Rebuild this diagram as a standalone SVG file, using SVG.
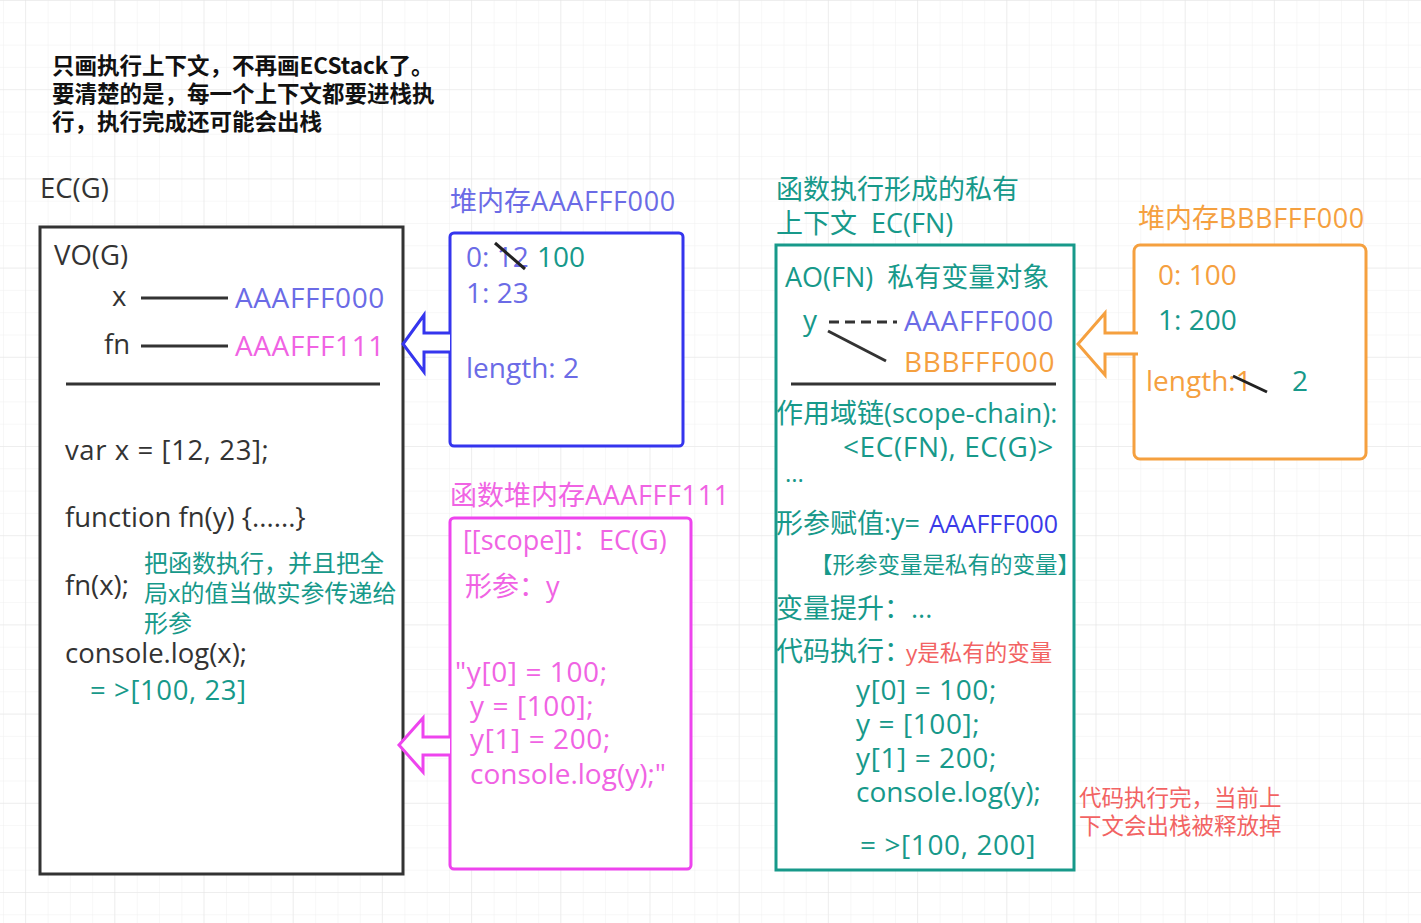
<svg xmlns="http://www.w3.org/2000/svg" width="1421" height="923" viewBox="0 0 1421 923">
<defs>
<pattern id="gmin" width="22.3" height="22.3" patternUnits="userSpaceOnUse" x="3" y="0">
<path d="M0 0H22.3M0 0V22.3" fill="none" stroke="#efefef" stroke-width="1"/>
</pattern>
<pattern id="gmaj" width="89.2" height="89.2" patternUnits="userSpaceOnUse" x="25" y="0">
<path d="M0 0H89.2M0 0V89.2" fill="none" stroke="#e5e5e5" stroke-width="1"/>
</pattern>
</defs>
<style>
text{font-family:"Open Sans","Noto Sans CJK SC",sans-serif;white-space:pre;}
.t24{font-size:27.5px;}
.t26{font-size:28px;}
.cjk{font-size:27px;}
.t22{font-size:24px;}
.t23{font-size:22.5px;}
.ls{letter-spacing:0.6px;}
.dark{fill:#333333;}
.pur{fill:#6b6be6;}
.pink{fill:#f063e3;}
.teal{fill:#17998a;}
.org{fill:#f5a03f;}
.red{fill:#f26363;}
.blue{fill:#3a3ae8;}
.ln{stroke:#333333;stroke-width:3;fill:none;}
.box{fill:#ffffff;stroke-width:3;}
.top{font-family:"Noto Sans CJK SC",sans-serif;font-weight:bold;font-size:22.5px;fill:#111;}
</style>
<rect width="1421" height="923" fill="#ffffff"/>
<rect width="1421" height="923" fill="url(#gmin)"/>
<rect width="1421" height="923" fill="url(#gmaj)"/>

<g id="note-top">
<text x="52" y="74" class="top">只画执行上下文，不再画ECStack了。</text>
<text x="52" y="102" class="top">要清楚的是，每一个上下文都要进栈执</text>
<text x="52" y="130" class="top">行，执行完成还可能会出栈</text>
</g>

<g id="ec-g">
<text x="40" y="198" class="t24 dark">EC(G)</text>
<rect x="40" y="227" width="363" height="647" class="box" stroke="#333333"/>
<text x="54" y="265" class="t24 dark">VO(G)</text>
<text x="112" y="306" class="t24 dark">x</text>
<line x1="141" y1="298" x2="228" y2="298" class="ln"/>
<text x="235" y="308" class="t26 pur ls">AAAFFF000</text>
<text x="104" y="354" class="t24 dark">fn</text>
<line x1="141" y1="346" x2="228" y2="346" class="ln"/>
<text x="235" y="356" class="t26 pink ls">AAAFFF111</text>
<line x1="66" y1="384" x2="380" y2="384" class="ln"/>
<text x="65" y="460" class="t24 dark ls">var x = [12, 23];</text>
<text x="65" y="527" class="t24 dark">function fn(y) {......}</text>
<text x="65" y="595" class="t24 dark">fn(x);</text>
<text x="144" y="572" class="t22 teal">把函数执行，并且把全</text>
<text x="144" y="602" class="t22 teal">局x的值当做实参传递给</text>
<text x="144" y="632" class="t22 teal">形参</text>
<text x="65" y="663" class="t24 dark">console.log(x);</text>
<text x="90" y="700" class="t24 teal ls">= &gt;[100, 23]</text>
</g>

<g id="heap-aaafff000">
<text x="450" y="211" class="cjk pur">堆内存<tspan class="ls">AAAFFF000</tspan></text>
<rect x="450" y="233" width="233" height="213" rx="4" class="box" stroke="#3535ee"/>
<text x="466" y="267" class="t26 pur">0: 12</text>
<text x="537" y="267" class="t26 teal">100</text>
<line x1="495" y1="243" x2="525" y2="269" stroke="#222" stroke-width="3"/>
<text x="466" y="303" class="t26 pur">1: 23</text>
<text x="466" y="378" class="t26 pur">length: 2</text>
</g>

<g id="heap-aaafff111">
<text x="450" y="505" class="cjk pink">函数堆内存<tspan class="ls">AAAFFF111</tspan></text>
<rect x="450" y="518" width="241" height="351" rx="4" class="box" stroke="#ee44ee"/>
<text x="463" y="550" class="cjk pink">[[scope]]：EC(G)</text>
<text x="465" y="596" class="cjk pink">形参：y</text>
<text x="455" y="682" class="t26 pink ls">"y[0] = 100;</text>
<text x="470" y="716" class="t26 pink ls">y = [100];</text>
<text x="470" y="749" class="t26 pink ls">y[1] = 200;</text>
<text x="470" y="784" class="t26 pink">console.log(y);"</text>
</g>

<g id="ec-fn">
<text x="776" y="199" class="cjk teal">函数执行形成的私有</text>
<text x="776" y="233" class="cjk teal">上下文  EC(FN)</text>
<rect x="776" y="245" width="298" height="625" class="box" stroke="#17998a"/>
<text x="785" y="287" class="cjk teal">AO(FN)  私有变量对象</text>
<text x="803" y="330" class="t26 teal">y</text>
<line x1="829" y1="322" x2="897" y2="322" stroke="#333" stroke-width="3" stroke-dasharray="10,6"/>
<text x="904" y="331" class="t26 pur ls">AAAFFF000</text>
<line x1="828" y1="331" x2="886" y2="361" class="ln"/>
<text x="904" y="372" class="t26 org ls">BBBFFF000</text>
<line x1="791" y1="384" x2="1056" y2="384" class="ln"/>
<text x="776" y="423" class="cjk teal">作用域链(scope-chain):</text>
<text x="843" y="457" class="t26 teal ls">&lt;EC(FN), EC(G)&gt;</text>
<text x="785" y="482" class="t22 teal">...</text>
<text x="776" y="533" class="cjk teal">形参赋值:y=</text>
<text x="929" y="533" class="blue" style="font-size:25px">AAAFFF000</text>
<text x="810" y="573" class="t23 teal">【形参变量是私有的变量】</text>
<text x="776" y="618" class="cjk teal">变量提升：...</text>
<text x="776" y="661" class="cjk teal">代码执行：</text>
<text x="906" y="661" class="t23 red">y是私有的变量</text>
<text x="856" y="700" class="t26 teal ls">y[0] = 100;</text>
<text x="856" y="734" class="t26 teal ls">y = [100];</text>
<text x="856" y="768" class="t26 teal ls">y[1] = 200;</text>
<text x="856" y="802" class="t26 teal">console.log(y);</text>
<text x="860" y="855" class="t26 teal ls">= &gt;[100, 200]</text>
</g>

<g id="note-pop">
<text x="1079" y="806" class="t23 red">代码执行完，当前上</text>
<text x="1079" y="834" class="t23 red">下文会出栈被释放掉</text>
</g>

<g id="heap-bbbfff000">
<text x="1138" y="228" class="cjk org">堆内存<tspan class="ls">BBBFFF000</tspan></text>
<rect x="1134" y="245" width="232" height="214" rx="6" class="box" stroke="#f5a03f"/>
<text x="1158" y="285" class="t26 org">0: 100</text>
<text x="1158" y="330" class="t26 teal">1: 200</text>
<text x="1146" y="391" class="t26 org">length:1</text>
<line x1="1233" y1="376" x2="1267" y2="392" stroke="#222" stroke-width="3"/>
<text x="1292" y="391" class="t26 teal">2</text>
</g>

<g id="connectors">
<path d="M450 333 H424 V315 L403 344 L424 372 V352 H450" fill="#ffffff" stroke="#3535ee" stroke-width="3"/>
<path d="M450 737 H423 V718 L399 745 L423 772 V755 H450" fill="#ffffff" stroke="#ee44ee" stroke-width="3"/>
<path d="M1138 333 H1105 V313 L1078 344 L1105 375 V354 H1138" fill="#ffffff" stroke="#f5a03f" stroke-width="3"/>
</g>
</svg>
